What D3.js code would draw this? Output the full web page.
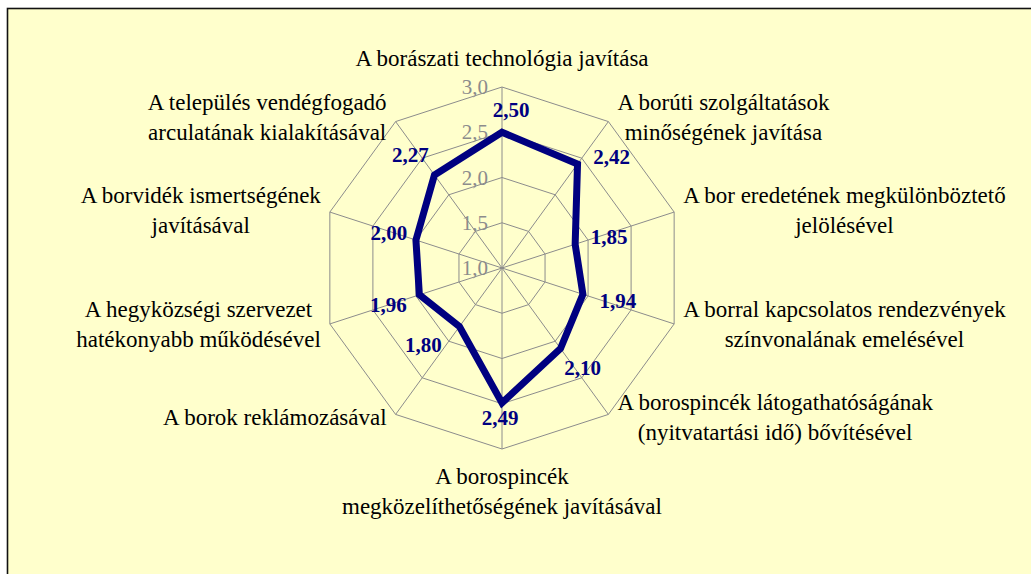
<!DOCTYPE html>
<html><head><meta charset="utf-8">
<script src="https://cdn.jsdelivr.net/npm/d3@7"></script>
</head><body style="margin:0;padding:0;background:#fff;overflow:hidden">
<svg id="chart" width="1031" height="574" style="display:block"></svg>
<script>
const categories = [
  "A borászati technológia javítása",
  "A borúti szolgáltatások\nminőségének javítása",
  "A bor eredetének megkülönböztető\njelölésével",
  "A borral kapcsolatos rendezvények\nszínvonalának emelésével",
  "A borospincék látogathatóságának\n(nyitvatartási idő) bővítésével",
  "A borospincék\nmegközelíthetőségének javításával",
  "A borok reklámozásával",
  "A hegyközségi szervezet\nhatékonyabb működésével",
  "A borvidék ismertségének\njavításával",
  "A település vendégfogadó\narculatának kialakításával"
];
const values = [2.50, 2.42, 1.85, 1.94, 2.10, 2.49, 1.80, 1.96, 2.00, 2.27];
const ticks = [1.0, 1.5, 2.0, 2.5, 3.0];
// data label placement keywords (Excel-like label positions)
const labelPositions = ["above", "right", "right", "rightLow", "belowRight", "below", "belowLeft", "leftLow", "left", "aboveLeft"];

const posOffsets = {
  above: [9, -15], right: [34, 0], rightLow: [35, 14], belowRight: [22, 26],
  below: [-2, 22], belowLeft: [-36, 25], leftLow: [-31, 17], left: [-27, 0], aboveLeft: [-24, -13]
};

const FONT = '"Liberation Serif"';
const cx = 502, cy = 268, R = 181;
const comma = d => d.replace(".", ",");
const fmt1 = v => comma(d3.format(".1f")(v));
const fmt2 = v => comma(d3.format(".2f")(v));

const svg = d3.select("#chart");
svg.append("rect").attr("x", 7.5).attr("y", 8.5).attr("width", 1200).attr("height", 800)
  .attr("fill", "#FFFFCC").attr("stroke", "#111").attr("stroke-width", 1.6);

const r = d3.scaleLinear().domain([ticks[0], ticks[ticks.length - 1]]).range([0, R]);
const ang = d3.scaleLinear().domain([0, categories.length]).range([0, 2 * Math.PI]);
const px = (i, v) => cx + r(v) * Math.sin(ang(i));
const py = (i, v) => cy - r(v) * Math.cos(ang(i));

const g = svg.append("g");
// rings
ticks.filter(t => r(t) > 0).forEach(t => {
  const pts = categories.map((c, i) => [px(i, t), py(i, t)]);
  g.append("polygon").attr("points", pts.map(p => p.join(",")).join(" "))
    .attr("fill", "none").attr("stroke", "#8c8c8c").attr("stroke-width", 1);
});
// spokes
const tmax = ticks[ticks.length - 1];
categories.forEach((c, i) => {
  g.append("line").attr("x1", cx).attr("y1", cy)
    .attr("x2", px(i, tmax)).attr("y2", py(i, tmax))
    .attr("stroke", "#8c8c8c").attr("stroke-width", 1);
});
// tick labels
ticks.forEach(t => {
  g.append("text").attr("x", cx - 14).attr("y", cy - r(t) + 7)
    .attr("text-anchor", "end").style("font-family", FONT).style("font-size", "21px")
    .attr("fill", "#8c8c8c").text(fmt1(t));
});

// category labels
categories.forEach((c, i) => {
  const lines = c.split("\n");
  const vx = px(i, tmax), vy = py(i, tmax);
  const s = Math.sin(ang(i)), co = Math.cos(ang(i));
  const t = g.append("text").style("font-family", FONT).style("font-size", "23px")
    .attr("fill", "#000").attr("text-anchor", "middle");
  const spans = lines.map(l => t.append("tspan").text(l));
  const widths = spans.map(sp => sp.node().getComputedTextLength());
  const bw = d3.max(widths);
  const lh = 30;
  let x, y0;
  if (Math.abs(s) < 0.1) {
    x = vx;
    if (co > 0) y0 = vy - 21 - (lines.length - 1) * lh;
    else y0 = vy + 35;
  } else {
    x = s > 0 ? vx + 9 + bw / 2 : vx - 9 - bw / 2;
    const centerY = vy - 5 * co;
    y0 = centerY - (lines.length - 1) * lh / 2 + 7;
  }
  spans.forEach((sp, k) => sp.attr("x", x).attr("y", y0 + k * lh));
});

// data line
const line = d3.line().x(d => d[0]).y(d => d[1]).curve(d3.curveLinearClosed);
g.append("path").attr("d", line(values.map((v, i) => [px(i, v), py(i, v)])))
  .attr("fill", "none").attr("stroke", "#000080").attr("stroke-width", 7)
  .attr("stroke-linejoin", "miter");

// data labels
values.forEach((v, i) => {
  const o = posOffsets[labelPositions[i]];
  g.append("text").attr("x", px(i, v) + o[0]).attr("y", py(i, v) + o[1])
    .attr("text-anchor", "middle").style("font-family", FONT).style("font-size", "21px")
    .style("font-weight", "bold").attr("fill", "#000080").text(fmt2(v));
});
</script>
</body></html>
